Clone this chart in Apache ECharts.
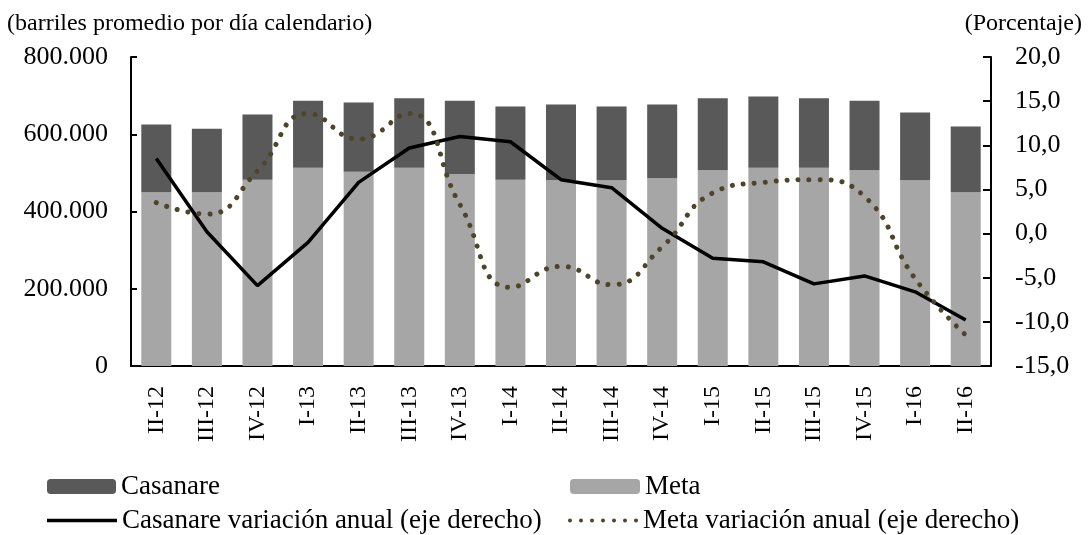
<!DOCTYPE html>
<html>
<head>
<meta charset="utf-8">
<script src="https://cdn.jsdelivr.net/npm/echarts@6/dist/echarts.min.js"></script>
<style>
html, body { margin: 0; padding: 0; background: #fff; }
#chart { width: 1088px; height: 535px; }
</style>
</head>
<body>
<div id="chart"></div>
<script>
// trimestres
var categories = ['II-12', 'III-12', 'IV-12', 'I-13', 'II-13', 'III-13', 'IV-13', 'I-14', 'II-14',
    'III-14', 'IV-14', 'I-15', 'II-15', 'III-15', 'IV-15', 'I-16', 'II-16'];

// barriles promedio por dia
var meta = [450000, 450000, 482000, 513000, 503000, 513000, 497000, 482000, 481000,
    481000, 486000, 507000, 513000, 513000, 507000, 481000, 450000];
var casanare = [175000, 164000, 169000, 174000, 179000, 180000, 190000, 190000, 196000,
    191000, 191000, 186000, 185000, 180000, 180000, 175000, 170000];

// variacion anual (%)
var casanareVar = [8.5, 0.2, -5.9, -1.0, 5.8, 9.7, 11.0, 10.4, 6.1, 5.2, 0.6, -2.8, -3.2, -5.7, -4.8, -6.6, -9.8];
var metaVar = [3.5, 2.2, 7.1, 13.6, 10.7, 13.6, 3.3, -6.1, -3.7, -5.8, -1.5, 4.6, 5.8, 6.1, 4.2, -5.1, -11.5];

var font = 'Liberation Serif';
var fs = 26;
var dotColor = '#4d4528';

var chart = echarts.init(document.getElementById('chart'));

function fmtMiles(v) {
    return String(v).replace(/\B(?=(\d{3})+(?!\d))/g, '.');
}

// icono punteado para la leyenda
var dotsIcon = 'path://';
for (var i = 0; i < 7; i++) {
    var cx = 2 + i * 11;
    dotsIcon += 'M' + (cx - 2) + ',2a2,2 0 1,0 4,0a2,2 0 1,0 -4,0z';
}

var legendText = { fontFamily: font, fontSize: 27, color: '#000' };

var option = {
    animation: false,
    title: [
        { text: '(barriles promedio por día calendario)', left: 2, top: 7,
          textStyle: { fontFamily: font, fontSize: 24, fontWeight: 'normal', color: '#000' } },
        { text: '(Porcentaje)', right: 1, top: 7,
          textStyle: { fontFamily: font, fontSize: 24, fontWeight: 'normal', color: '#000' } }
    ],
    grid: { left: 131, right: 97, top: 57, bottom: 169 },
    legend: [
        { data: ['Casanare'], left: 47, top: 473, itemWidth: 69, itemHeight: 15, itemGap: 5, textStyle: legendText, padding: 0 },
        { data: ['Meta'], left: 570, top: 473, itemWidth: 70, itemHeight: 15, itemGap: 5, textStyle: legendText, padding: 0 },
        { data: [{ name: 'Casanare variación anual (eje derecho)', icon: 'rect' }], left: 47, top: 507,
          itemWidth: 70, itemHeight: 3.5, textStyle: legendText, padding: 0 },
        { data: [{ name: 'Meta variación anual (eje derecho)', icon: dotsIcon }], left: 568, top: 507,
          itemWidth: 70, itemHeight: 4, textStyle: legendText, padding: 0 }
    ],
    xAxis: {
        type: 'category',
        data: categories,
        axisLine: { lineStyle: { color: '#000', width: 2 } },
        axisTick: { inside: true, length: 7, lineStyle: { color: '#000', width: 2 } },
        axisLabel: { rotate: 90, margin: 20, fontFamily: font, fontSize: 24, color: '#000', interval: 0 }
    },
    yAxis: [
        {
            type: 'value', min: 0, max: 800000, interval: 200000,
            splitLine: { show: false },
            axisLine: { show: true, lineStyle: { color: '#000', width: 2 } },
            axisTick: { show: true, inside: true, length: 6, lineStyle: { color: '#000', width: 2 } },
            axisLabel: { margin: 23, fontFamily: font, fontSize: fs, color: '#000', formatter: fmtMiles }
        },
        {
            type: 'value', min: -15, max: 20, interval: 5, position: 'right',
            splitLine: { show: false },
            axisLine: { show: true, lineStyle: { color: '#000', width: 2 } },
            axisTick: { show: true, inside: true, length: 8, lineStyle: { color: '#000', width: 2 } },
            axisLabel: { margin: 24, fontFamily: font, fontSize: fs, color: '#000',
                formatter: function (v) { return v.toFixed(1).replace('.', ','); } }
        }
    ],
    series: [
        {
            name: 'Meta', type: 'bar', stack: 'prod', data: meta, barWidth: 30,
            itemStyle: { color: '#a6a6a6' }
        },
        {
            name: 'Casanare', type: 'bar', stack: 'prod', data: casanare, barWidth: 30,
            itemStyle: { color: '#595959' }
        },
        {
            name: 'Casanare variación anual (eje derecho)', type: 'line', yAxisIndex: 1, data: casanareVar,
            symbol: 'none', itemStyle: { color: '#000' },
            lineStyle: { color: '#000', width: 3.5 }
        },
        {
            name: 'Meta variación anual (eje derecho)', type: 'line', yAxisIndex: 1, data: metaVar,
            smooth: 0.5, symbol: 'none', itemStyle: { color: dotColor },
            lineStyle: { color: dotColor, width: 5, type: [0.01, 11], cap: 'round' }
        }
    ]
};
chart.setOption(option);
</script>
</body>
</html>
